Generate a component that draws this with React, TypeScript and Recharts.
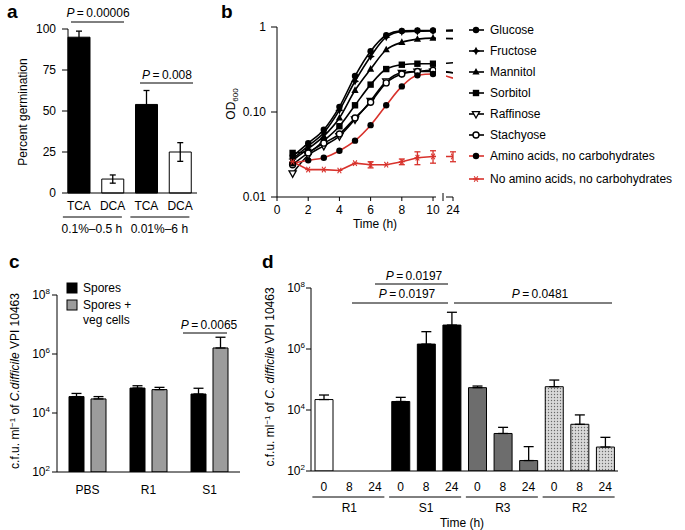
import React from 'react';
import { BarChart, Bar, LineChart, Line, XAxis, YAxis, ErrorBar, Cell } from 'recharts';

const FONT = '"Liberation Sans", Arial, Helvetica, sans-serif';
const BLACK = '#000000';
const RED = '#d8322c';

// ---------- Panel a ----------
const aTreatments = ['TCA', 'DCA', 'TCA', 'DCA'];
const aConditions = ['0.1%\u20130.5 h', '0.01%\u20136 h'];
const aGermination = [95, 8.5, 54, 25];
const aGerminationErr = [3.7, 2.5, 8.5, 5.7];
const aFills = ['#000000', '#ffffff', '#000000', '#ffffff'];
const aTicks = [0, 25, 50, 75, 100];

// ---------- Panel b ----------
const bHours = [1, 2, 3, 4, 5, 6, 7, 8, 9, 10, 24];
const bSeriesNames = [
  'Glucose', 'Fructose', 'Mannitol', 'Sorbitol', 'Raffinose', 'Stachyose',
  'Amino acids, no carbohydrates', 'No amino acids, no carbohydrates',
];
const bGlucose = [0.030, 0.043, 0.062, 0.115, 0.265, 0.52, 0.80, 0.90, 0.91, 0.91, 0.92];
const bFructose = [0.028, 0.040, 0.057, 0.105, 0.23, 0.45, 0.76, 0.88, 0.89, 0.90, 0.90];
const bMannitol = [0.027, 0.037, 0.052, 0.085, 0.18, 0.32, 0.54, 0.66, 0.72, 0.74, 0.73];
const bSorbitol = [0.033, 0.034, 0.046, 0.068, 0.12, 0.21, 0.32, 0.36, 0.37, 0.37, 0.38];
const bRaffinose = [0.019, 0.031, 0.040, 0.052, 0.082, 0.135, 0.23, 0.29, 0.30, 0.30, 0.29];
const bStachyose = [0.024, 0.033, 0.043, 0.055, 0.085, 0.13, 0.22, 0.28, 0.30, 0.31, 0.29];
const bAmino = [0.025, 0.027, 0.029, 0.035, 0.046, 0.070, 0.12, 0.20, 0.27, 0.28, 0.25];
const bNoAmino = [0.026, 0.021, 0.021, 0.0205, 0.025, 0.024, 0.024, 0.026, 0.029, 0.030, 0.030];
const bNoAminoErr = [0, 0, 0, 0, 0, 0.002, 0, 0.002, 0.005, 0.005, 0.004];
const bXTicks = [0, 2, 4, 6, 8, 10, 24];
const bYTicks = [0.01, 0.1, 1];
const bYTickLabels = ['0.01', '0.10', '1'];
const BREAK_POS = 11.28; // axis position at which the 24 h point is drawn

// ---------- Panel c ----------
const cGroups = ['PBS', 'R1', 'S1'];
const cLegendNames = ['Spores', 'Spores +', 'veg cells'];
const cSpores = [3.6e4, 7.0e4, 4.4e4];
const cSporesTop = [4.6e4, 8.4e4, 6.9e4];
const cVeg = [3.0e4, 6.2e4, 1.6e6];
const cVegTop = [3.6e4, 7.4e4, 3.7e6];
const logTicks = [1e2, 1e4, 1e6, 1e8];

// ---------- Panel d ----------
const dCommunities = ['R1', 'S1', 'R3', 'R2'];
const dTimes = [0, 8, 24];
const dValues = [
  [2.2e4, null, null],
  [1.9e4, 1.45e6, 6.1e6],
  [5.4e4, 1.7e3, 2.2e2],
  [5.8e4, 3.4e3, 6.1e2],
];
const dTops = [
  [3.1e4, null, null],
  [2.6e4, 3.7e6, 1.6e7],
  [6.1e4, 2.7e3, 6.3e2],
  [9.6e4, 6.9e3, 1.27e3],
];
const dFills = ['#ffffff', '#000000', '#6d6d6d', 'url(#dotsPattern)'];

// ---------- tables ----------
const aData = aTreatments.map((t, i) => ({ name: `${t}${i}`, label: t, value: aGermination[i], err: aGerminationErr[i] }));

const bSeries = [
  { key: 'glucose', values: bGlucose, color: BLACK, dotColor: BLACK, marker: 'circle' },
  { key: 'fructose', values: bFructose, color: BLACK, dotColor: BLACK, marker: 'star4' },
  { key: 'mannitol', values: bMannitol, color: BLACK, dotColor: BLACK, marker: 'triUp' },
  { key: 'sorbitol', values: bSorbitol, color: BLACK, dotColor: BLACK, marker: 'square' },
  { key: 'raffinose', values: bRaffinose, color: BLACK, dotColor: BLACK, marker: 'triDown' },
  { key: 'stachyose', values: bStachyose, color: BLACK, dotColor: BLACK, marker: 'openCircle' },
  { key: 'amino', values: bAmino, color: RED, dotColor: BLACK, marker: 'circle' },
  { key: 'noAmino', values: bNoAmino, color: RED, dotColor: RED, marker: 'asterisk' },
].map((s, i) => ({ ...s, name: bSeriesNames[i] }));

const bData = bHours.map((h, i) => {
  const row: any = { pos: h <= 10 ? h : BREAK_POS, hour: h };
  bSeries.forEach((s) => { row[s.key] = s.values[i]; });
  row.noAminoErr = bNoAminoErr[i];
  return row;
});

const cData = cGroups.map((g, i) => ({
  name: g,
  spores: cSpores[i],
  sporesErr: [0, cSporesTop[i] - cSpores[i]],
  veg: cVeg[i],
  vegErr: [0, cVegTop[i] - cVeg[i]],
}));

const dData: any[] = [];
dCommunities.forEach((c, gi) => {
  dTimes.forEach((t, ti) => {
    const v = dValues[gi][ti];
    const top = dTops[gi][ti];
    dData.push({
      name: `${c}-${t}`,
      group: gi,
      time: t,
      value: v,
      err: v != null && top != null ? [0, top - v] : null,
    });
  });
});

// ---------- helpers ----------
function Marker({ kind, cx, cy, color }: any) {
  if (cx == null || cy == null || isNaN(cx) || isNaN(cy)) return <g />;
  switch (kind) {
    case 'circle':
      return <circle cx={cx} cy={cy} r={3.2} fill={color} />;
    case 'openCircle':
      return <circle cx={cx} cy={cy} r={3} fill="#fff" stroke={color} strokeWidth={1.4} />;
    case 'square':
      return <rect x={cx - 3.2} y={cy - 3.2} width={6.4} height={6.4} fill={color} />;
    case 'triUp':
      return <polygon points={`${cx},${cy - 4} ${cx - 3.6},${cy + 2.6} ${cx + 3.6},${cy + 2.6}`} fill={color} />;
    case 'triDown':
      return <polygon points={`${cx},${cy + 4} ${cx - 3.6},${cy - 2.4} ${cx + 3.6},${cy - 2.4}`} fill="#fff" stroke={color} strokeWidth={1.3} />;
    case 'star4':
      return <polygon points={`${cx},${cy - 4.2} ${cx + 1.4},${cy - 1.4} ${cx + 4.2},${cy} ${cx + 1.4},${cy + 1.4} ${cx},${cy + 4.2} ${cx - 1.4},${cy + 1.4} ${cx - 4.2},${cy} ${cx - 1.4},${cy - 1.4}`} fill={color} />;
    case 'asterisk':
      return (
        <g stroke={color} strokeWidth={1.1}>
          <line x1={cx - 3} x2={cx + 3} y1={cy} y2={cy} />
          <line x1={cx - 1.8} x2={cx + 1.8} y1={cy - 2.8} y2={cy + 2.8} />
          <line x1={cx + 1.8} x2={cx - 1.8} y1={cy - 2.8} y2={cy + 2.8} />
        </g>
      );
    default:
      return <g />;
  }
}

const makeDot = (kind: string, color: string, hide24: boolean) => (p: any) => {
  const { cx, cy, index, payload } = p;
  if (hide24 && payload && payload.hour === 24) return <g key={`dot-${index}`} />;
  return <Marker key={`dot-${index}`} kind={kind} cx={cx} cy={cy} color={color} />;
};

const tickStyle = { fill: '#000', fontSize: 12, fontFamily: FONT };

const PowTick = (props: any) => {
  const { x, y, payload } = props;
  const exp = Math.round(Math.log10(payload.value));
  return (
    <text x={x} y={y + 4} textAnchor="end" fontSize={12} fontFamily={FONT} fill="#000">
      10<tspan dy={-5} fontSize={8}>{exp}</tspan>
    </text>
  );
};

const ATick = (props: any) => {
  const { x, y, index } = props;
  const row = aData[index];
  if (!row) return <g />;
  return (
    <g fontFamily={FONT} fontSize={12} fill="#000">
      <text x={x} y={y + 17} textAnchor="middle">{row.label}</text>
      {index % 2 === 0 && (
        <g>
          <line x1={x - 16} x2={x + 43} y1={y + 24} y2={y + 24} stroke="#000" strokeWidth={1} />
          <text x={x + 13} y={y + 40} textAnchor="middle">{aConditions[index / 2]}</text>
        </g>
      )}
    </g>
  );
};

const CTick = (props: any) => {
  const { x, y, payload } = props;
  return (
    <text x={x} y={y + 22} textAnchor="middle" fontSize={12} fontFamily={FONT} fill="#000">{payload.value}</text>
  );
};

const DTick = (props: any) => {
  const { x, y, index } = props;
  const row = dData[index];
  if (!row) return <g />;
  return (
    <g fontFamily={FONT} fontSize={12} fill="#000">
      <text x={x} y={y + 20} textAnchor="middle">{row.time}</text>
      {index % 3 === 1 && (
        <g>
          <line x1={x - 37} x2={x + 35} y1={y + 26} y2={y + 26} stroke="#000" strokeWidth={1} />
          <text x={x} y={y + 41} textAnchor="middle">{dCommunities[row.group]}</text>
        </g>
      )}
    </g>
  );
};

const PText = ({ x, y, value }: any) => (
  <text x={x} y={y} textAnchor="middle" fontSize={12} fontFamily={FONT} fill="#000">
    <tspan fontStyle="italic">P</tspan>{`\u2009=\u2009${value}`}
  </text>
);

export default function App() {
  return (
    <div style={{ position: 'absolute', left: 0, top: 0, width: 685, height: 530, background: '#fff', fontFamily: FONT, overflow: 'hidden' }}>
      {/* Panel a */}
      <div style={{ position: 'absolute', left: 0, top: 0 }}>
        <BarChart width={200} height={240} data={aData} margin={{ top: 29, right: 3, left: 0, bottom: 0 }}>
          <XAxis dataKey="name" height={47} tickSize={0} tickMargin={0} tickLine={false} stroke="#000"
            padding={{ left: -6, right: 0 }} interval={0} tick={<ATick />} />
          <YAxis type="number" domain={[0, 100]} ticks={aTicks} width={68} tickSize={6} tickMargin={6}
            stroke="#000" tick={tickStyle} interval={0} />
          <Bar dataKey="value" barSize={22} stroke="#000" strokeWidth={1} isAnimationActive={false}>
            {aData.map((d, i) => <Cell key={d.name} fill={aFills[i]} />)}
            <ErrorBar dataKey="err" width={3} stroke="#000" strokeWidth={1.3} />
          </Bar>
        </BarChart>
      </div>

      {/* Panel b */}
      <div style={{ position: 'absolute', left: 200, top: 0 }}>
        <LineChart width={270} height={240} data={bData} margin={{ top: 27, right: 17, left: 0, bottom: 0 }}>
          <XAxis dataKey="pos" type="number" domain={[0, BREAK_POS]} allowDataOverflow
            ticks={bXTicks.map((h) => (h <= 10 ? h : BREAK_POS))}
            tickFormatter={(v: number) => (v > 10 ? String(bXTicks[bXTicks.length - 1]) : String(v))}
            height={43} tickSize={4} tickMargin={4} stroke="#000" tick={tickStyle} interval={0} />
          <YAxis type="number" scale="log" domain={[0.01, 1]} allowDataOverflow ticks={bYTicks}
            tickFormatter={(v: number) => bYTickLabels[bYTicks.indexOf(v)] ?? String(v)}
            width={77} tickSize={6} tickMargin={5} stroke="#000" tick={tickStyle} interval={0} />
          {bSeries.map((s) => (
            <Line key={s.key} dataKey={s.key} name={s.name}
              type={s.key === 'noAmino' ? 'linear' : 'monotone'}
              stroke={s.color} strokeWidth={1.6}
              dot={makeDot(s.marker, s.dotColor, s.color === BLACK || s.key === 'amino')}
              activeDot={false} isAnimationActive={false}>
              {s.key === 'noAmino' && (
                <ErrorBar dataKey="noAminoErr" direction="y" width={3} stroke={RED} strokeWidth={1.3} />
              )}
            </Line>
          ))}
        </LineChart>
      </div>

      {/* Panel c */}
      <div style={{ position: 'absolute', left: 0, top: 270 }}>
        <BarChart width={245} height={240} data={cData} margin={{ top: 25, right: 5, left: 0, bottom: 0 }}
          barGap={7} barCategoryGap={0}>
          <XAxis dataKey="name" height={38} tickSize={0} tickMargin={0} tickLine={false} stroke="#000"
            interval={0} tick={<CTick />} />
          <YAxis type="number" scale="log" domain={[1e2, 1e8]} allowDataOverflow ticks={logTicks}
            width={57} tickSize={5} tickMargin={2} stroke="#000" tick={<PowTick />} interval={0} />
          <Bar dataKey="spores" name={cLegendNames[0]} barSize={15} fill="#000" stroke="#000" strokeWidth={1} isAnimationActive={false}>
            <ErrorBar dataKey="sporesErr" width={5} stroke="#000" strokeWidth={1.3} />
          </Bar>
          <Bar dataKey="veg" name={cLegendNames[1]} barSize={15} fill="#9c9c9c" stroke="#000" strokeWidth={1} isAnimationActive={false}>
            <ErrorBar dataKey="vegErr" width={5} stroke="#000" strokeWidth={1.3} />
          </Bar>
        </BarChart>
      </div>

      {/* Panel d */}
      <div style={{ position: 'absolute', left: 250, top: 270 }}>
        <BarChart width={435} height={260} data={dData} margin={{ top: 18, right: 67, left: 0, bottom: 0 }}
          barCategoryGap={4}>
          <defs>
            <pattern id="dotsPattern" width="3" height="3" patternUnits="userSpaceOnUse">
              <rect width="3" height="3" fill="#d9d9d9" />
              <circle cx="1.5" cy="1.5" r="0.7" fill="#6a6a6a" />
            </pattern>
          </defs>
          <XAxis dataKey="name" height={59} tickSize={0} tickMargin={0} tickLine={false} stroke="#000"
            interval={0} tick={<DTick />} />
          <YAxis type="number" scale="log" domain={[1e2, 1e8]} allowDataOverflow ticks={logTicks}
            width={61} tickSize={5} tickMargin={1} stroke="#000" tick={<PowTick />} interval={0} />
          <Bar dataKey="value" barSize={18} stroke="#000" strokeWidth={1} isAnimationActive={false}>
            {dData.map((d) => <Cell key={d.name} fill={dFills[d.group]} />)}
            <ErrorBar dataKey="err" width={5} stroke="#000" strokeWidth={1.3} />
          </Bar>
        </BarChart>
      </div>

      {/* Annotations, titles and legends */}
      <svg width={685} height={530} style={{ position: 'absolute', left: 0, top: 0, pointerEvents: 'none' }} fontFamily={FONT}>
        {/* axis break in panel b */}
        <rect x={436} y={18} width={10} height={182} fill="#fff" />
        <line x1={443} x2={443} y1={193} y2={201} stroke="#000" strokeWidth={1} />

        {/* panel letters */}
        <text x={7} y={18} fontSize={19} fontWeight="bold">a</text>
        <text x={221} y={18} fontSize={19} fontWeight="bold">b</text>
        <text x={9} y={268} fontSize={19} fontWeight="bold">c</text>
        <text x={262} y={268} fontSize={19} fontWeight="bold">d</text>

        {/* panel a */}
        <text transform="rotate(-90)" x={-112} y={27} textAnchor="middle" fontSize={12}>Percent germination</text>
        <PText x={98} y={17} value="0.00006" />
        <line x1={71} x2={124} y1={22} y2={22} stroke="#000" strokeWidth={1} />
        <PText x={167} y={79} value="0.008" />
        <line x1={140} x2={193} y1={83} y2={83} stroke="#000" strokeWidth={1} />

        {/* panel b */}
        <text transform="rotate(-90)" x={-104} y={235} textAnchor="middle" fontSize={12}>
          OD<tspan dy={3} fontSize={8}>600</tspan>
        </text>
        <text x={375} y={228} textAnchor="middle" fontSize={12}>Time (h)</text>
        {bSeries.map((s, i) => {
          const y = 30 + i * 21 + (i === 7 ? 2 : 0);
          return (
            <g key={s.key}>
              <line x1={469} x2={484} y1={y} y2={y} stroke={s.color} strokeWidth={1.6} />
              <Marker kind={s.marker} cx={476} cy={y} color={s.dotColor} />
              <text x={490} y={y + 4} fontSize={12}>{s.name}</text>
            </g>
          );
        })}

        {/* panel c */}
        <text transform="rotate(-90)" x={-381} y={19} textAnchor="middle" fontSize={12}>
          c.f.u. ml<tspan dy={-4} fontSize={8}>{'\u22121'}</tspan><tspan dy={4}> of </tspan>
          <tspan fontStyle="italic">C.difficile</tspan> VPI 10463
        </text>
        <rect x={67} y={283} width={10} height={10} fill="#000" stroke="#000" />
        <text x={83} y={292} fontSize={12}>{cLegendNames[0]}</text>
        <rect x={67} y={300} width={10} height={10} fill="#9c9c9c" stroke="#000" />
        <text x={83} y={309} fontSize={12}>{cLegendNames[1]}</text>
        <text x={83} y={324} fontSize={12}>{cLegendNames[2]}</text>
        <PText x={209} y={329} value="0.0065" />
        <line x1={183} x2={227} y1={333} y2={333} stroke="#000" strokeWidth={1} />

        {/* panel d */}
        <text transform="rotate(-90)" x={-377} y={274} textAnchor="middle" fontSize={12}>
          c.f.u. ml<tspan dy={-4} fontSize={8}>{'\u22121'}</tspan><tspan dy={4}> of </tspan>
          <tspan fontStyle="italic">C. difficile</tspan> VPI 10463
        </text>
        <PText x={414} y={280} value="0.0197" />
        <line x1={375} x2={448} y1={284} y2={284} stroke="#000" strokeWidth={1} />
        <PText x={407} y={298} value="0.0197" />
        <line x1={352} x2={448} y1={303} y2={303} stroke="#000" strokeWidth={1} />
        <PText x={540} y={298} value="0.0481" />
        <line x1={454} x2={612} y1={303} y2={303} stroke="#000" strokeWidth={1} />
        <text x={462} y={527} textAnchor="middle" fontSize={12}>Time (h)</text>
      </svg>
    </div>
  );
}
